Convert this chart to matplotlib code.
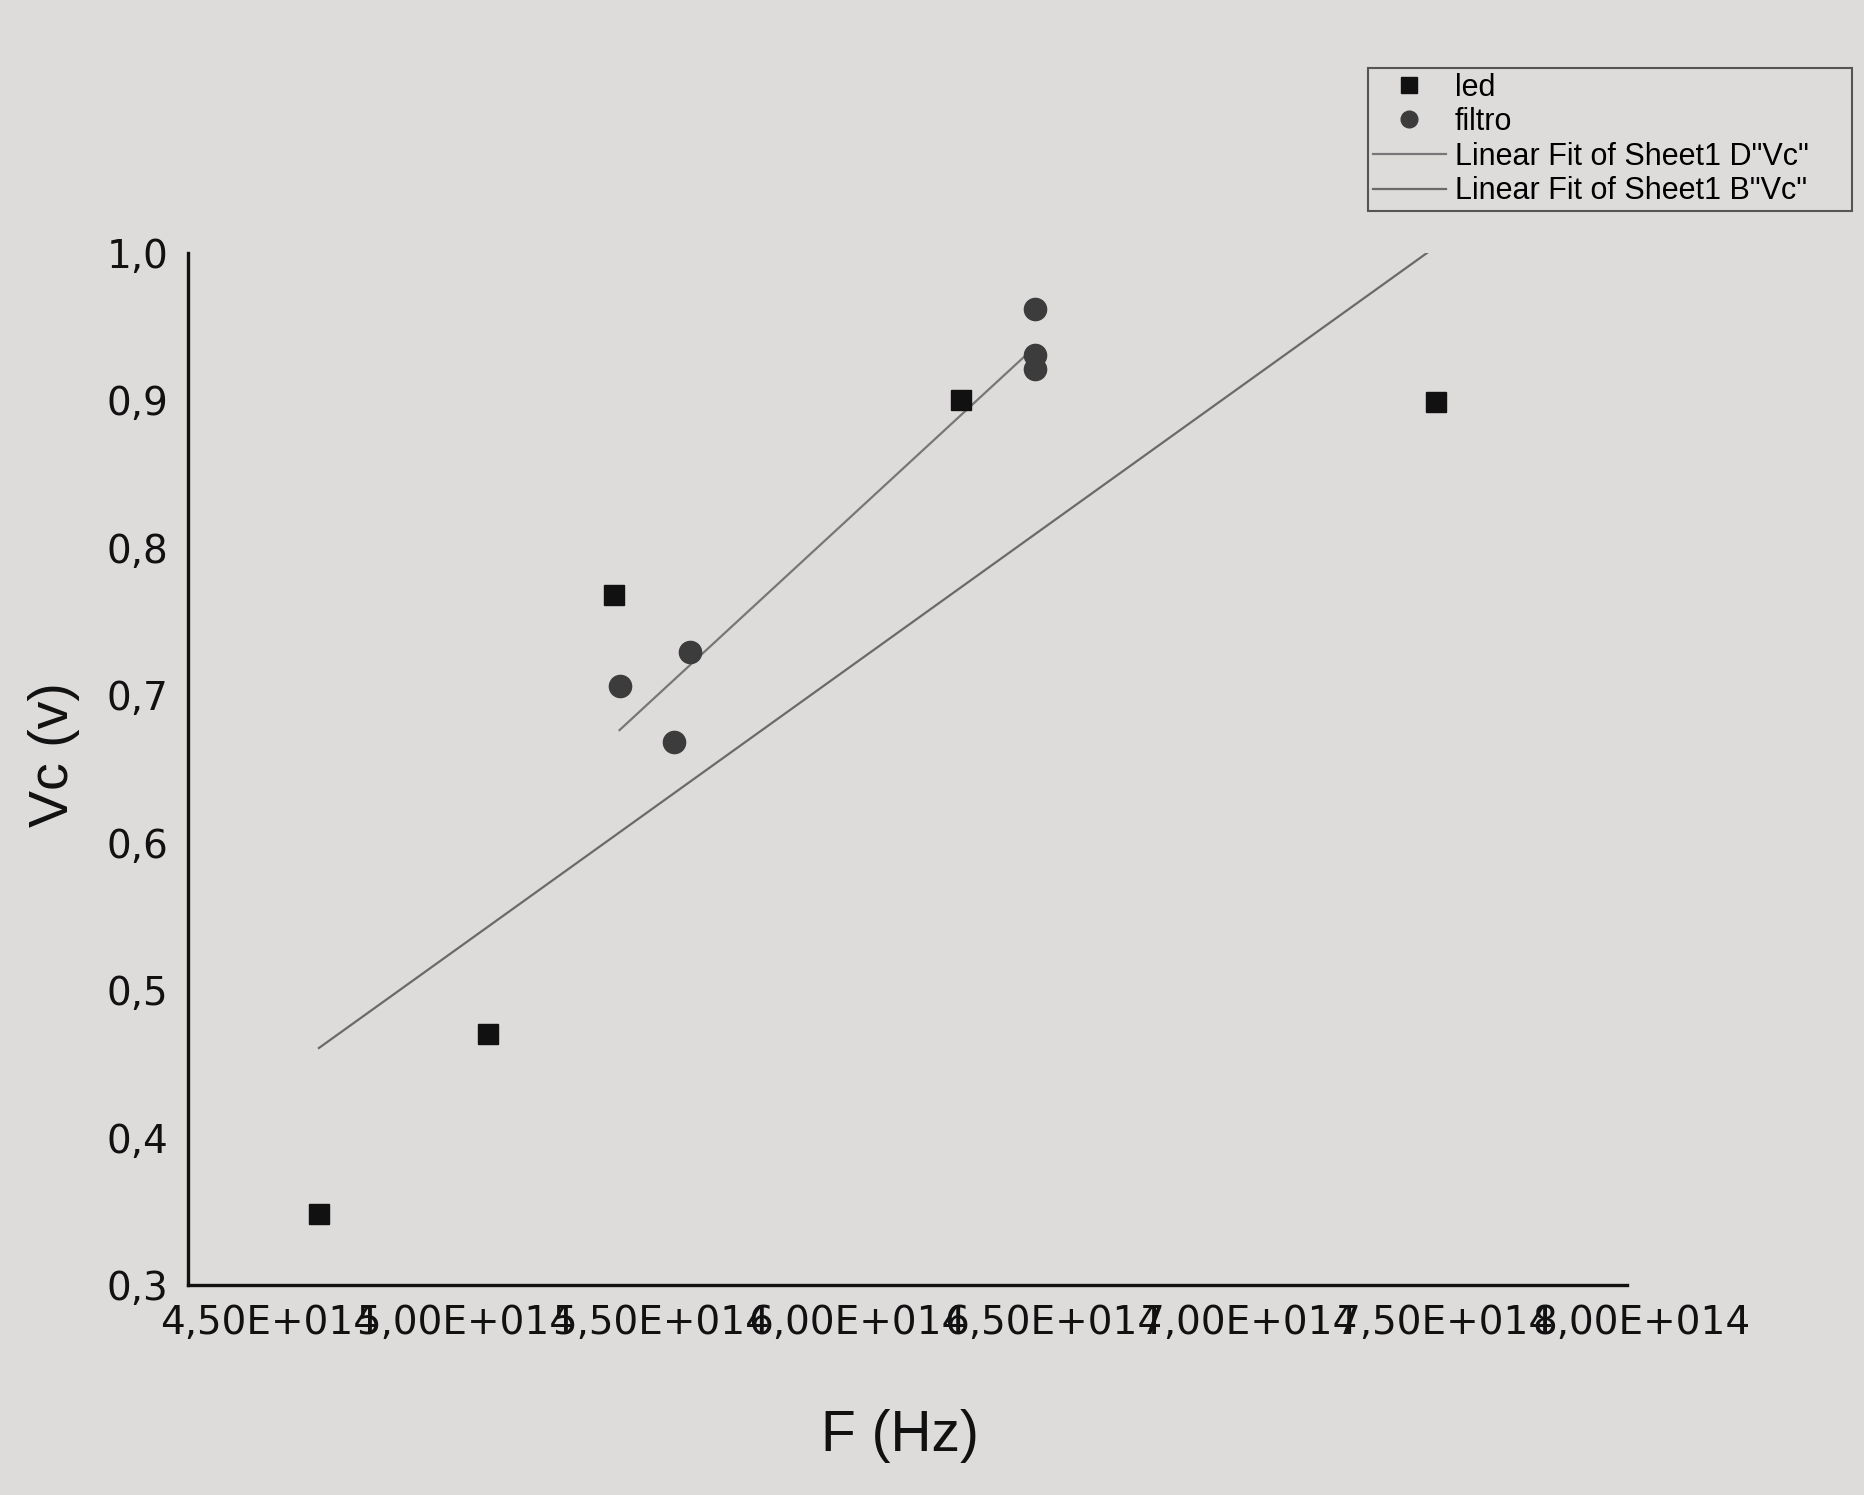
import numpy as np
import matplotlib
matplotlib.use("Agg")
import matplotlib.pyplot as plt
from matplotlib.ticker import FuncFormatter

# data (frequency in Hz, voltage in V)
led_f = [4.627e14, 5.058e14, 5.379e14, 6.264e14, 7.476e14]
led_vc = [0.348, 0.470, 0.768, 0.900, 0.899]

filtro_f = [5.394e14, 5.573e14, 5.533e14, 6.455e14, 6.455e14, 6.455e14]
filtro_vc = [0.706, 0.729, 0.668, 0.962, 0.931, 0.921]

x_ticks = [4.5e14, 5.0e14, 5.5e14, 6.0e14, 6.5e14, 7.0e14, 7.5e14, 8.0e14]
y_ticks = [0.3, 0.4, 0.5, 0.6, 0.7, 0.8, 0.9, 1.0]

bg = "#dedbdb"
plt.rcParams["font.family"] = ["Liberation Sans", "DejaVu Sans"]

fig = plt.figure(figsize=(18.65, 14.95), dpi=100, facecolor=bg)
ax = fig.add_axes([188 / 1865, 0.1405, 1453 / 1865, 0.6903])
ax.set_facecolor(bg)


def linear_fit(x, y):
    x = np.asarray(x)
    y = np.asarray(y)
    k, b = np.polyfit(x / 1e14, y, 1)
    xs = np.array([x.min(), x.max()])
    return xs, k * xs / 1e14 + b


led_sc, = ax.plot(led_f, led_vc, "s", color="#111111", markersize=15,
                  label="led", zorder=3)
filtro_sc, = ax.plot(filtro_f, filtro_vc, "o", color="#3c3c3c",
                     markersize=16, label="filtro", zorder=3)

xd, yd = linear_fit(filtro_f, filtro_vc)
fit_d, = ax.plot(xd, yd, color="#777777", linewidth=1.6,
                 label="Linear Fit of Sheet1 D\"Vc\"")
xb, yb = linear_fit(led_f, led_vc)
fit_b, = ax.plot(xb, yb, color="#6a6a6a", linewidth=1.6,
                 label="Linear Fit of Sheet1 B\"Vc\"")

ax.set_xlim(4.293e14, 8.0e14)
ax.set_ylim(0.3, 1.0)
ax.set_xticks(x_ticks)
ax.set_yticks(y_ticks)
ax.xaxis.set_major_formatter(
    FuncFormatter(lambda v, p: f"{v / 1e14:.2f}".replace(".", ",") + "E+014"))
ax.yaxis.set_major_formatter(
    FuncFormatter(lambda v, p: f"{v:.1f}".replace(".", ",")))
ax.tick_params(axis="both", length=0, colors="#111111")
for lab in ax.get_xticklabels() + ax.get_yticklabels():
    lab.set_fontfamily("DejaVu Sans")
    lab.set_fontsize(28)
ax.tick_params(axis="x", pad=14)
ax.tick_params(axis="y", pad=14)

for side in ["top", "right"]:
    ax.spines[side].set_visible(False)
for side in ["left", "bottom"]:
    ax.spines[side].set_linewidth(2.4)
    ax.spines[side].set_color("#111111")
ax.spines["bottom"].set_bounds(4.293e14, 7.964e14)

fig.text(0.4826, 1 - 1436 / 1495, "F (Hz)", fontsize=41, ha="center",
         va="center", color="#111111")
fig.text(54 / 1865, 1 - 755 / 1495, "Vc (v)", fontsize=40, ha="center",
         va="center", rotation=90, color="#111111")

leg = fig.legend(handles=[led_sc, filtro_sc, fit_d, fit_b],
                 loc="upper left",
                 bbox_to_anchor=(1368 / 1865, 1 - 216 / 1495, 484 / 1865, 148 / 1495),
                 mode="expand", fontsize=22, frameon=True, fancybox=False,
                 framealpha=1, facecolor=bg, edgecolor="#555555",
                 handlelength=2.4, handletextpad=0.3, labelspacing=0.15,
                 borderpad=0.15, borderaxespad=0, markerscale=0.75)
leg.get_frame().set_linewidth(1.5)

fig.savefig("out.png", dpi=100, facecolor=bg)
